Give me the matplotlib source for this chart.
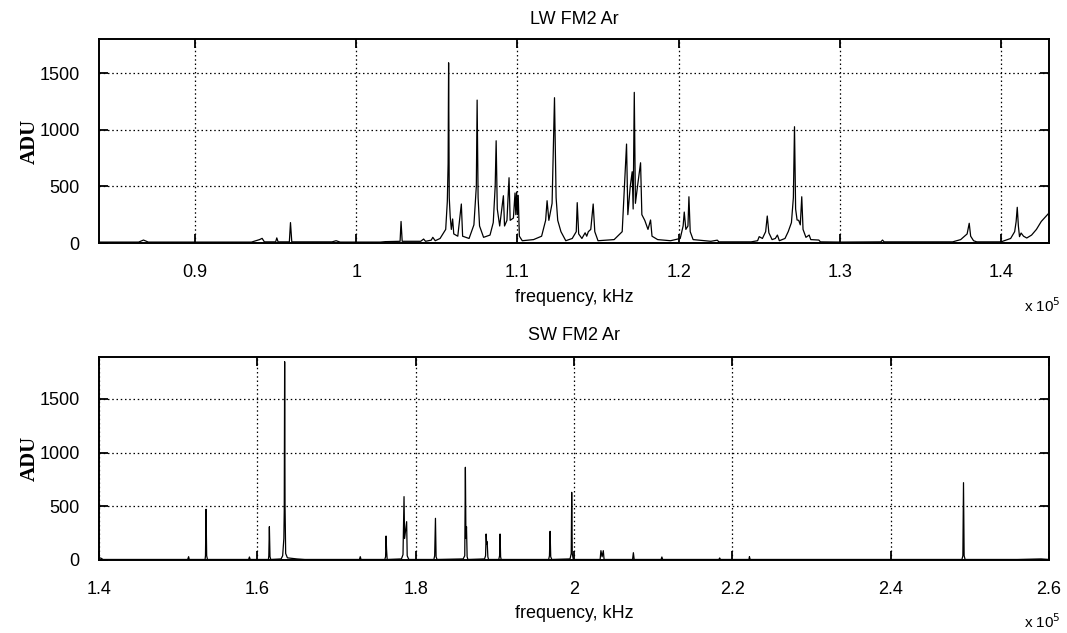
import matplotlib
matplotlib.use("Agg")
import matplotlib.pyplot as plt
import numpy as np

# ---------------- data (frequency in units of 1e5 Hz, ADU) ----------------
lw_freq = [0.840, 0.865, 0.868, 0.871, 0.935, 0.940, 0.9416, 0.943, 0.950, 0.9507,
           0.9515, 0.9585, 0.9592, 0.9600, 0.985, 0.9875, 0.990, 1.015, 1.018, 1.0272,
           1.0278, 1.0285, 1.040, 1.0418, 1.043, 1.0465, 1.0475, 1.049, 1.052, 1.0555,
           1.0565, 1.0570, 1.0573, 1.0577, 1.0583, 1.0590, 1.0598, 1.0605, 1.0630, 1.0652,
           1.0660, 1.0700, 1.0730, 1.0745, 1.0750, 1.0756, 1.0765, 1.0790, 1.0830, 1.0850,
           1.0862, 1.0868, 1.0875, 1.0890, 1.0913, 1.0920, 1.0935, 1.0948, 1.0955, 1.0975,
           1.0985, 1.0990, 1.0995, 1.1000, 1.1005, 1.1012, 1.1030, 1.1100, 1.1150, 1.1175,
           1.1184, 1.1195, 1.1215, 1.1230, 1.1240, 1.1250, 1.1270, 1.1300, 1.1340, 1.1365,
           1.1371, 1.1380, 1.1400, 1.1420, 1.1430, 1.1440, 1.1455, 1.1470, 1.1480, 1.1500,
           1.1600, 1.1650, 1.1677, 1.1685, 1.1700, 1.1712, 1.1718, 1.1725, 1.1732, 1.1745,
           1.1764, 1.1772, 1.1790, 1.1810, 1.1826, 1.1835, 1.1870, 1.1950, 1.2010, 1.2028,
           1.2035, 1.2045, 1.2058, 1.2064, 1.2072, 1.2090, 1.2200, 1.2240, 1.2250, 1.2450,
           1.2490, 1.2500, 1.2520, 1.2540, 1.2550, 1.2560, 1.2580, 1.2600, 1.2613, 1.2625,
           1.2660, 1.2680, 1.2700, 1.2712, 1.2719, 1.2726, 1.2735, 1.2745, 1.2755, 1.2764,
           1.2772, 1.2790, 1.2810, 1.2820, 1.2870, 1.2880, 1.3000, 1.3255, 1.3265, 1.3275,
           1.3700, 1.3750, 1.3790, 1.3803, 1.3812, 1.3830, 1.3850, 1.4000, 1.4020, 1.4060,
           1.4085, 1.4094, 1.4101, 1.4108, 1.4115, 1.4125, 1.4140, 1.4160, 1.4190, 1.4220,
           1.4250, 1.4298]
lw_adu = [8, 8, 26, 8, 8, 30, 41, 10, 10, 45,
          10, 10, 180, 10, 10, 20, 8, 8, 12, 15,
          190, 15, 15, 35, 15, 25, 50, 20, 40, 120,
          365, 700, 1590, 400, 232, 120, 212, 80, 60, 344,
          60, 40, 160, 500, 1261, 400, 150, 50, 70, 180,
          500, 902, 300, 150, 417, 150, 200, 576, 200, 220,
          441, 250, 450, 250, 420, 60, 20, 30, 60, 200,
          373, 200, 350, 1282, 400, 200, 100, 20, 40, 100,
          356, 80, 40, 90, 60, 100, 120, 344, 100, 20,
          30, 100, 873, 250, 500, 629, 300, 1329, 350, 500,
          708, 250, 200, 120, 203, 60, 30, 20, 40, 150,
          273, 120, 150, 408, 100, 30, 15, 25, 10, 10,
          20, 56, 40, 100, 238, 90, 30, 40, 70, 20,
          40, 100, 180, 400, 1026, 300, 203, 200, 160, 408,
          120, 50, 70, 30, 26, 10, 8, 10, 26, 10,
          10, 30, 80, 174, 60, 20, 10, 10, 20, 40,
          100, 188, 315, 150, 56, 88, 60, 44, 70, 120,
          190, 265]

sw_freq = [1.400, 1.401, 1.403, 1.405, 1.512, 1.5132, 1.514, 1.534, 1.5345, 1.5352,
           1.5360, 1.537, 1.589, 1.590, 1.591, 1.614, 1.6145, 1.6152, 1.6160, 1.617,
           1.630, 1.632, 1.6335, 1.6340, 1.6345, 1.6350, 1.6358, 1.638, 1.650, 1.660,
           1.729, 1.730, 1.731, 1.761, 1.7620, 1.7626, 1.7632, 1.764, 1.782, 1.784,
           1.7853, 1.7860, 1.7886, 1.7893, 1.791, 1.792, 1.823, 1.824, 1.8250, 1.8258,
           1.827, 1.860, 1.8620, 1.8628, 1.8635, 1.8642, 1.8650, 1.866, 1.887, 1.8883,
           1.8890, 1.8897, 1.8903, 1.8912, 1.892, 1.905, 1.9060, 1.9066, 1.9073, 1.908,
           1.968, 1.9690, 1.9698, 1.9706, 1.972, 1.995, 1.9965, 1.9971, 1.9978, 1.999,
           2.001, 2.033, 2.034, 2.0355, 2.037, 2.038, 2.074, 2.075, 2.076, 2.110,
           2.111, 2.112, 2.183, 2.184, 2.185, 2.221, 2.2216, 2.2225, 2.490, 2.4912,
           2.4920, 2.4928, 2.494, 2.560, 2.590, 2.600]
sw_adu = [5, 20, 15, 5, 5, 31, 5, 5, 40, 472,
          40, 5, 5, 28, 5, 5, 40, 310, 30, 5,
          10, 40, 200, 465, 1846, 500, 60, 20, 10, 5,
          5, 31, 5, 5, 30, 223, 100, 5, 10, 50,
          590, 200, 357, 40, 10, 5, 5, 40, 388, 30,
          5, 10, 40, 863, 200, 310, 30, 5, 10, 40,
          242, 150, 170, 30, 5, 5, 40, 242, 30, 5,
          5, 40, 267, 30, 5, 10, 60, 630, 60, 10,
          5, 5, 87, 30, 87, 5, 5, 68, 5, 5,
          28, 5, 5, 19, 5, 5, 31, 5, 5, 40,
          720, 40, 5, 5, 10, 5]

lw_xticks = [0.9, 1.0, 1.1, 1.2, 1.3, 1.4]
lw_xticklabels = ["0.9", "1", "1.1", "1.2", "1.3", "1.4"]
sw_xticks = [1.4, 1.6, 1.8, 2.0, 2.2, 2.4, 2.6]
sw_xticklabels = ["1.4", "1.6", "1.8", "2", "2.2", "2.4", "2.6"]
yticks = [0, 500, 1000, 1500]
titles = ["LW FM2 Ar", "SW FM2 Ar"]
xlabel = "frequency, kHz"
ylabel = "ADU"

# ---------------- figure ----------------
W, H = 1067, 633
fig = plt.figure(figsize=(W / 100, H / 100), dpi=100)
sans = ["Liberation Sans", "DejaVu Sans"]
serif = ["Liberation Serif", "DejaVu Serif"]
fs = 13

def px_box(left, top, right, bottom):
    return [left / W, 1 - bottom / H, (right - left) / W, (bottom - top) / H]

ax1 = fig.add_axes(px_box(99, 39, 1049, 243))
ax2 = fig.add_axes(px_box(99, 357, 1049, 560))

# (axes, x, y, xlim, ylim, xticks, labels, title, title_y, xlabel_y, offset_y, axes_top, axes_bottom)
panels = [
    (ax1, lw_freq, lw_adu, (0.8404, 1.4298), (0, 1800), lw_xticks, lw_xticklabels,
     titles[0], 20, 297, 306, 39, 243),
    (ax2, sw_freq, sw_adu, (1.4, 2.6), (0, 1890), sw_xticks, sw_xticklabels,
     titles[1], 336, 613, 622, 357, 560),
]

for ax, fx, fy, xl, yl, xt, xtl, title, ty, ly, oy, at, ab in panels:
    ax.plot(np.asarray(fx) * 1e5, fy, color="black", lw=0.9)
    ax.set_xlim(xl[0] * 1e5, xl[1] * 1e5)
    ax.set_ylim(*yl)
    ax.set_xticks(np.asarray(xt) * 1e5)
    ax.set_xticklabels(xtl, fontsize=fs, family=sans)
    ax.set_yticks(yticks)
    ax.set_yticklabels([str(v) for v in yticks], fontsize=fs, family=sans)
    ax.grid(True, color="black", linestyle=(0, (1.2, 2.2)), linewidth=0.9)
    ax.tick_params(direction="in", length=6.5, width=1.3, top=True, right=True,
                   colors="black")
    ax.tick_params(axis="x", pad=15)
    ax.tick_params(axis="y", pad=14)
    for s in ax.spines.values():
        s.set_linewidth(1.4)
    ax.set_axisbelow(False)
    fig.text(30 / W, 1 - 0.5 * (at + ab) / H, ylabel, rotation=90, ha="center",
             va="center", fontsize=15, fontweight="bold", family=serif)
    fig.text(0.5 * (99 + 1049) / W, 1 - ty / H, title, ha="center", va="center",
             fontsize=fs, family=sans)
    fig.text(0.5 * (99 + 1049) / W, 1 - ly / H, xlabel, ha="center", va="center",
             fontsize=fs, family=sans)
    fig.text(1042 / W, 1 - oy / H, r"x 10$^{5}$", ha="center", va="center",
             fontsize=11, family=sans)

fig.savefig("out.png", dpi=100)
